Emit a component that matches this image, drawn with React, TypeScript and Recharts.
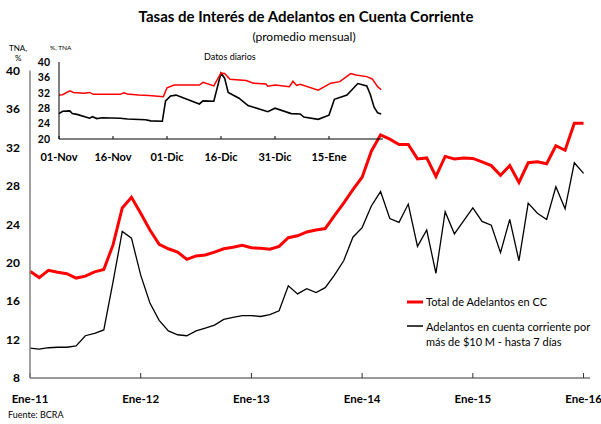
import { LineChart, Line, XAxis, YAxis } from "recharts";

// Serie mensual, Ene-11 a Ene-16
const totalCC = [
  19.1, 18.45, 19.2, 19.0, 18.85, 18.4, 18.6, 19.05, 19.3, 21.85, 25.7, 26.8,
  25.15, 23.4, 21.9, 21.45, 21.1, 20.35, 20.7, 20.8, 21.1, 21.45, 21.6, 21.8,
  21.55, 21.5, 21.4, 21.7, 22.6, 22.8, 23.2, 23.4, 23.55, 24.9, 26.2, 27.6,
  28.9, 31.6, 33.3, 32.85, 32.3, 32.3, 30.8, 30.9, 28.97, 31.06, 30.8, 30.9,
  30.85, 30.5, 30.1, 29.1, 30.1, 28.35, 30.4, 30.5, 30.3, 32.17, 31.7, 34.5,
  34.5,
];
const adelantos10M = [
  11.1, 11.0, 11.15, 11.2, 11.2, 11.33, 12.4, 12.65, 13.0, 18.0, 23.25, 22.55,
  18.7, 15.8, 14.0, 12.9, 12.5, 12.4, 12.9, 13.2, 13.5, 14.1, 14.3, 14.5,
  14.5, 14.4, 14.6, 15.0, 17.6, 16.75, 17.3, 16.9, 17.4, 18.7, 20.2, 22.65,
  23.65, 25.9, 27.4, 24.6, 24.2, 26.1, 21.7, 23.4, 18.9, 25.3, 23.0, 24.35,
  25.7, 24.3, 23.9, 21.05, 24.5, 20.2, 26.2, 25.15, 24.5, 27.9, 25.6, 30.4,
  29.3,
];
const ticksMes = [0, 12, 24, 36, 48, 60];
const etiquetasMes = ["Ene-11", "Ene-12", "Ene-13", "Ene-14", "Ene-15", "Ene-16"];

// Datos diarios (días desde 01-Nov)
const diasTotal = [
  0, 1, 3, 4, 7, 8.5, 9.5, 17, 18, 19, 22, 25, 29, 30, 32, 39, 40, 43, 45, 46,
  47.5, 52, 54, 57.5, 58, 60, 64, 65, 66, 67, 72, 75.5, 78, 81, 82.5, 85.5, 87,
  88.5, 89.5,
];
const valoresTotal = [
  31.4, 31.5, 32.5, 32.1, 31.9, 32.1, 31.6, 31.6, 32.0, 31.7, 31.4, 31.3, 31.0,
  33.3, 34.0, 34.0, 34.7, 33.8, 37.1, 37.0, 35.5, 35.2, 34.5, 34.3, 33.7, 34.0,
  33.6, 35.0, 33.9, 34.2, 32.7, 34.5, 34.9, 37.0, 36.6, 36.2, 35.6, 33.6, 32.8,
];
const diasGrandes = [
  0, 1, 3, 3.7, 5, 8.5, 9.3, 10.5, 12, 17, 19, 24, 25.5, 28.7, 29.6, 31, 32.5,
  39, 40, 43, 45, 46, 47, 50, 52.5, 58, 60, 64.5, 67, 68, 72, 75, 76.5, 80, 83,
  85.5, 86.5, 87.5, 88.5, 89.5,
];
const valoresGrandes = [
  26.6, 27.2, 27.3, 26.6, 26.4, 25.4, 25.8, 25.3, 25.5, 25.4, 25.2, 25.0, 24.7,
  24.6, 29.9, 31.2, 31.4, 29.1, 29.9, 29.8, 37.1, 35.8, 32.1, 30.6, 28.7, 27.1,
  28.0, 26.6, 26.5, 25.7, 25.1, 26.2, 30.3, 31.4, 34.4, 33.8, 31.5, 28.3, 26.8,
  26.5,
];
const ticksDia = [0, 15, 30, 45, 60, 75];
const etiquetasDia = ["01-Nov", "16-Nov", "01-Dic", "16-Dic", "31-Dic", "15-Ene"];

const font = "Lato, 'Open Sans', sans-serif";

const mensual = totalCC.map((v, i) => ({ mes: i, total: v, grandes: adelantos10M[i] }));
const diarioTotal = diasTotal.map((d, i) => ({ dia: d, valor: valoresTotal[i] }));
const diarioGrandes = diasGrandes.map((d, i) => ({ dia: d, valor: valoresGrandes[i] }));

const txt = (left: number, top: number, size: number, extra = {}) => ({
  position: "absolute" as const,
  left,
  top,
  fontSize: size,
  fontFamily: font,
  color: "#000",
  whiteSpace: "nowrap" as const,
  ...extra,
});

export default function App() {
  return (
    <div
      style={{
        position: "absolute",
        left: 0,
        top: 0,
        width: 601,
        height: 424,
        background: "#fff",
        overflow: "hidden",
      }}
    >
      <LineChart
        width={601}
        height={424}
        data={mensual}
        margin={{ top: 70.5, right: 11, left: 0, bottom: 0 }}
      >
        <XAxis
          dataKey="mes"
          type="number"
          domain={[0, 60.7]}
          ticks={ticksMes}
          interval={0}
          tickFormatter={(v) => etiquetasMes[ticksMes.indexOf(v)]}
          height={46}
          stroke="#333"
          tickSize={-5}
          tickMargin={22}
          tick={{ fontSize: 11.5, fontWeight: 700, fill: "#000", fontFamily: font }}
        />
        <YAxis
          type="number"
          domain={[8, 40]}
          ticks={[8, 12, 16, 20, 24, 28, 32, 36, 40]}
          interval={0}
          width={30}
          stroke="#808080"
          strokeWidth={1.5}
          tickLine={false}
          tickSize={4}
          tickMargin={6}
          tick={{ fontSize: 12, fontWeight: 700, fill: "#000", fontFamily: font }}
        />
        <Line
          dataKey="grandes"
          stroke="#000"
          strokeWidth={1.3}
          dot={false}
          isAnimationActive={false}
        />
        <Line
          dataKey="total"
          stroke="#ff0000"
          strokeWidth={3}
          dot={false}
          isAnimationActive={false}
        />
      </LineChart>

      <div style={{ position: "absolute", left: 0, top: 50 }}>
        <LineChart width={400} height={120} margin={{ top: 12, right: 17, left: 0, bottom: 0 }}>
          <XAxis
            dataKey="dia"
            type="number"
            domain={[0, 90]}
            ticks={ticksDia}
            interval={0}
            tickFormatter={(v) => etiquetasDia[ticksDia.indexOf(v)]}
            height={31}
            stroke="#000"
            tickSize={-3}
            tickMargin={17}
            allowDuplicatedCategory={false}
            tick={{ fontSize: 11, fontWeight: 700, fill: "#000", fontFamily: font }}
          />
          <YAxis
            type="number"
            domain={[20, 40]}
            ticks={[20, 24, 28, 32, 36, 40]}
            interval={0}
            width={59}
            stroke="#000"
            tickLine={false}
            tickSize={3}
            tickMargin={6}
            tick={{ fontSize: 10.5, fontWeight: 700, fill: "#000", fontFamily: font }}
          />
          <Line
            data={diarioGrandes}
            dataKey="valor"
            stroke="#000"
            strokeWidth={1.6}
            dot={false}
            isAnimationActive={false}
          />
          <Line
            data={diarioTotal}
            dataKey="valor"
            stroke="#ff0000"
            strokeWidth={1.5}
            dot={false}
            isAnimationActive={false}
          />
        </LineChart>
      </div>

      <div style={txt(0, 7, 15, { width: 612, textAlign: "center", fontWeight: 700 })}>
        Tasas de Interés de Adelantos en Cuenta Corriente
      </div>
      <div style={txt(0, 29, 12, { width: 608, textAlign: "center" })}>(promedio mensual)</div>
      <div style={txt(9, 43, 8)}>TNA,</div>
      <div style={txt(15, 53, 8)}>%</div>
      <div style={txt(50, 44, 6.5)}>%, TNA</div>
      <div style={txt(204, 51, 9)}>Datos diarios</div>

      <svg style={{ position: "absolute", left: 0, top: 0 }} width={601} height={424}>
        <line x1={407} x2={423} y1={302} y2={302} stroke="#ff0000" strokeWidth={3} />
        <line x1={407} x2={423} y1={326} y2={326} stroke="#000" strokeWidth={1.5} />
      </svg>
      <div style={txt(426, 295, 11)}>Total de Adelantos en CC</div>
      <div style={txt(426, 319, 11, { lineHeight: "15px" })}>
        Adelantos en cuenta corriente por
        <br />
        más de $10 M - hasta 7 días
      </div>
      <div style={txt(8, 409, 9)}>Fuente: BCRA</div>
    </div>
  );
}
